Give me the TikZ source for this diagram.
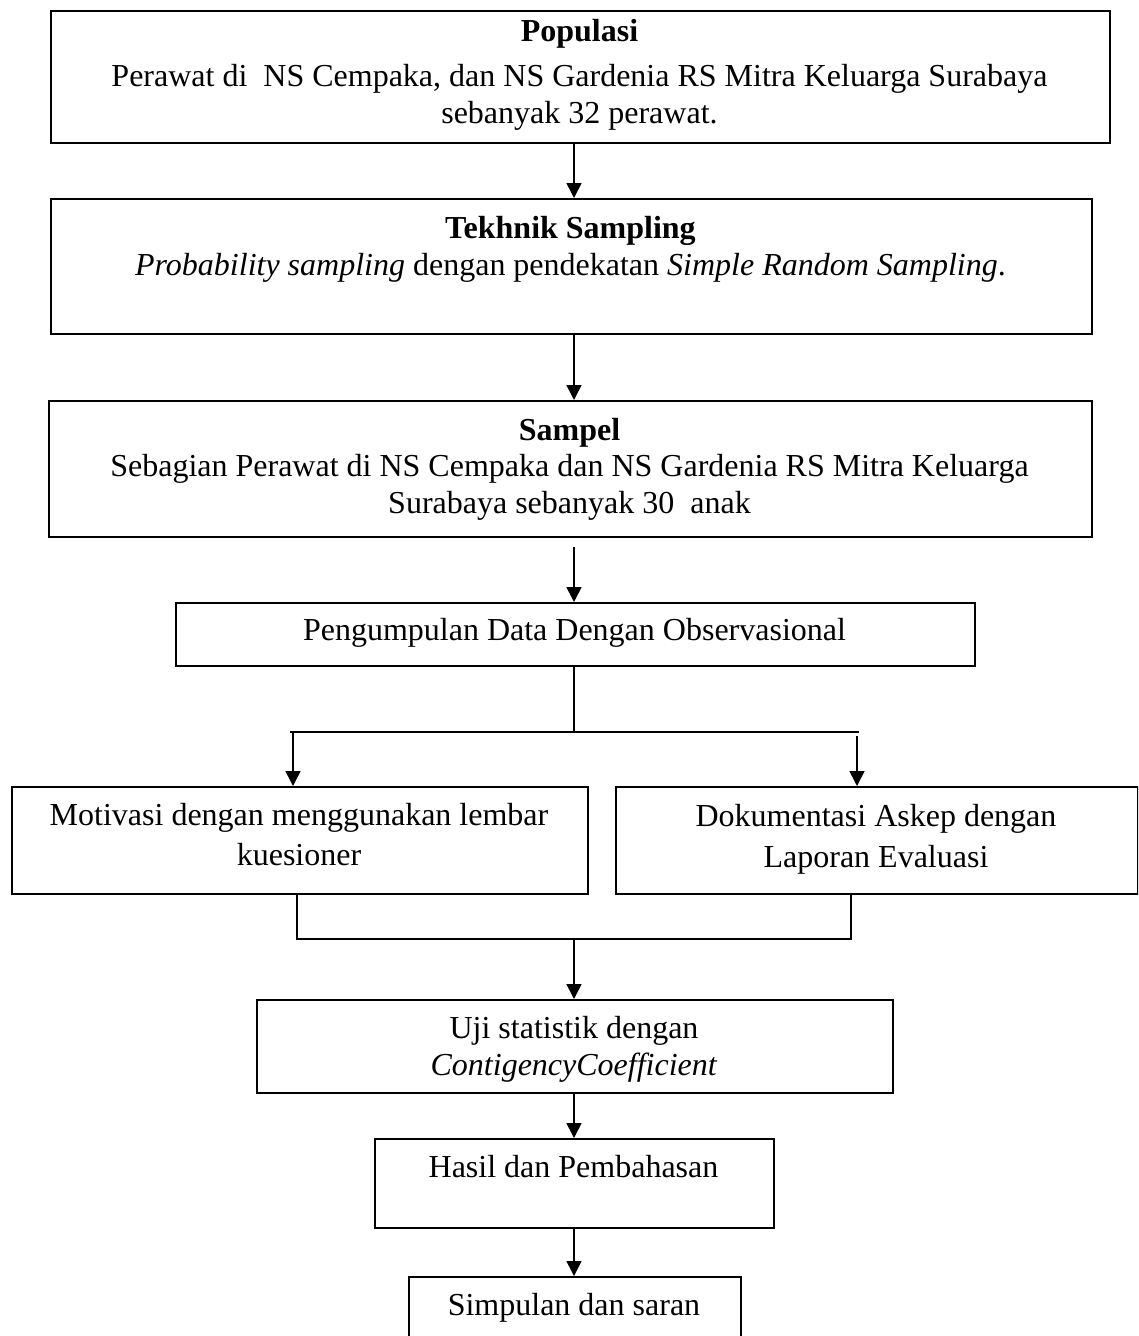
\documentclass[tikz,border=0pt]{standalone}
\usepackage{fontspec}
\setmainfont{Liberation Serif}
\usetikzlibrary{arrows.meta,calc}
\begin{document}
\begin{tikzpicture}[x=1pt,y=-1pt,
  box/.style={draw, line width=1.8pt, anchor=north west, inner sep=0pt},
  txt/.style={anchor=base, align=center, inner sep=0pt, font=\fontsize{32}{36.5}\selectfont},
  conn/.style={line width=1.6pt},
  arr/.style={conn, -{Triangle[length=15pt,width=15pt]}}]
\useasboundingbox (0,0) rectangle (1138,1336);
\clip (0,0) rectangle (1138,1336);
% boxes
\node[box, minimum width=1059pt, minimum height=132pt] (b1) at (50,10) {};
\node[box, minimum width=1041pt, minimum height=135pt] (b2) at (50,198) {};
\node[box, minimum width=1043pt, minimum height=136pt] (b3) at (48,400) {};
\node[box, minimum width=799pt, minimum height=63pt] (b4) at (175,602) {};
\node[box, minimum width=576pt, minimum height=107pt] (b5) at (11,786) {};
\node[box, minimum width=522pt, minimum height=107pt] (b6) at (615,786) {};
\node[box, minimum width=636pt, minimum height=93pt] (b7) at (256,999) {};
\node[box, minimum width=399pt, minimum height=89pt] (b8) at (374,1138) {};
\node[box, minimum width=332pt, minimum height=80pt] (b9) at (408,1276) {};
% texts (anchored at the baseline of the last line)
\node[txt] (t1) at (579.5,123) {\textbf{Populasi}\\[8.5pt] Perawat di\ \ NS Cempaka, dan NS Gardenia RS Mitra Keluarga Surabaya\\ sebanyak 32 perawat.};
\node[txt] (t2) at (570.5,275) {\textbf{Tekhnik Sampling}\\ \textit{Probability sampling} dengan pendekatan \textit{Simple Random Sampling}.};
\node[txt] (t3) at (569.5,513) {\textbf{Sampel}\\ Sebagian Perawat di NS Cempaka dan NS Gardenia RS Mitra Keluarga\\ Surabaya sebanyak 30\ \ anak};
\node[txt] (t4) at (574.5,640) {Pengumpulan Data Dengan Observasional};
\node[txt] (t5) at (299,865) {Motivasi dengan menggunakan lembar\\[3pt] kuesioner};
\node[txt] (t6) at (876,867) {Dokumentasi Askep dengan\\[4pt] Laporan Evaluasi};
\node[txt] (t7) at (574,1075) {Uji statistik dengan\\ \textit{ContigencyCoefficient}};
\node[txt] (t8) at (573.5,1177) {Hasil dan Pembahasan};
\node[txt] (t9) at (574,1315) {Simpulan dan saran};
% connectors
\coordinate (cx) at (574,0);
\draw[arr] (b1.south -| cx) -- (b2.north -| cx);
\draw[arr] (b2.south -| cx) -- (b3.north -| cx);
\draw[arr, shorten <=9pt] (b3.south -| cx) -- (b4.north -| cx);
\coordinate (j1) at (574,732);
\coordinate (hl) at (290,732);
\coordinate (hr) at (859,732);
\draw[conn] (b4.south -| cx) -- (j1);
\draw[conn] (hl) -- (hr);
\coordinate (a5) at (293,732);
\coordinate (a6) at (857,736);
\draw[arr] (a5) -- (b5.north -| a5);
\draw[arr] (a6) -- (b6.north -| a6);
\coordinate (m5) at (297,939);
\coordinate (m6) at (851,939);
\draw[conn] (b5.south -| m5) -- (m5) -- (m6) -- (b6.south -| m6);
\draw[arr] (m5 -| cx) -- (b7.north -| cx);
\draw[arr] (b7.south -| cx) -- (b8.north -| cx);
\draw[arr] (b8.south -| cx) -- (b9.north -| cx);
\end{tikzpicture}
\end{document}
